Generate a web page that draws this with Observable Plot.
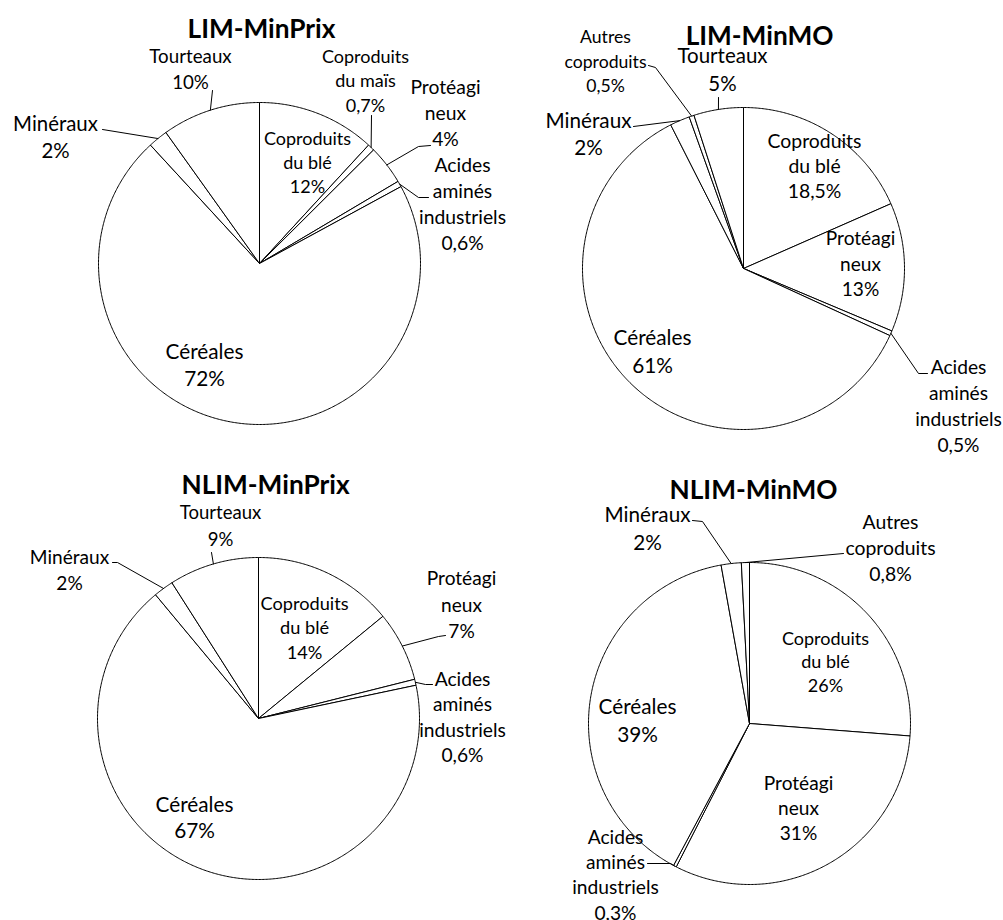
<!DOCTYPE html>
<html><head><meta charset="utf-8">
<script src="https://cdn.jsdelivr.net/npm/d3@7"></script>
<script src="https://cdn.jsdelivr.net/npm/@observablehq/plot@0.6"></script>
<style>html,body{margin:0;padding:0;background:#fff}</style>
</head><body><div id="chart"></div>
<script>
// ---------- DATA ----------
const titles = ["LIM-MinPrix", "LIM-MinMO", "NLIM-MinPrix", "NLIM-MinMO"];

const limMinPrixCategories = ["Coproduits du blé", "Coproduits du maïs", "Protéagineux", "Acides aminés industriels", "Céréales", "Minéraux", "Tourteaux"];
const limMinPrixValues = [12, 0.7, 4, 0.6, 72, 2, 10];

const limMinMOCategories = ["Coproduits du blé", "Protéagineux", "Acides aminés industriels", "Céréales", "Minéraux", "Autres coproduits", "Tourteaux"];
const limMinMOValues = [18.5, 13, 0.5, 61, 2, 0.5, 5];

const nlimMinPrixCategories = ["Coproduits du blé", "Protéagineux", "Acides aminés industriels", "Céréales", "Minéraux", "Tourteaux"];
const nlimMinPrixValues = [14, 7, 0.6, 67, 2, 9];

const nlimMinMOCategories = ["Coproduits du blé", "Protéagineux", "Acides aminés industriels", "Céréales", "Minéraux", "Autres coproduits"];
const nlimMinMOValues = [26, 31, 0.3, 39, 2, 0.8];

const categoryLines = {
  "Coproduits du blé": ["Coproduits", "du blé"],
  "Coproduits du maïs": ["Coproduits", "du maïs"],
  "Protéagineux": ["Protéagi", "neux"],
  "Acides aminés industriels": ["Acides", "aminés", "industriels"],
  "Céréales": ["Céréales"],
  "Minéraux": ["Minéraux"],
  "Tourteaux": ["Tourteaux"],
  "Autres coproduits": ["Autres", "coproduits"]
};

// ---------- LAYOUT (positions / sizes) ----------
const layout = [
  {cx: 259, cy: 263, r: 161, title: [261, 29], labels: {
    "Coproduits du blé": {x: 307, y: 162.7, pitch: 24, size: 19.4},
    "Coproduits du maïs": {x: 365, y: 81, pitch: 24.5, size: 19.4, leader: [[371, 115]]},
    "Protéagineux": {x: 445, y: 113, pitch: 26, size: 20.8, leader: [[430, 145], [418, 146]]},
    "Acides aminés industriels": {x: 462, y: 204, pitch: 26, size: 20.8, leader: [[428, 197], [418, 197]]},
    "Céréales": {x: 204, y: 365.5, pitch: 27, size: 22.4},
    "Minéraux": {x: 55, y: 137.5, pitch: 27, size: 22, leader: [[102, 129]]},
    "Tourteaux": {x: 190, y: 69, pitch: 26, size: 20.2, leader: [[212, 90]]}
  }},
  {cx: 743, cy: 268, r: 161, title: [759, 36], labels: {
    "Coproduits du blé": {x: 814, y: 166, pitch: 25, size: 20.9},
    "Protéagineux": {x: 860, y: 264, pitch: 25.5, size: 20.6},
    "Acides aminés industriels": {x: 958, y: 406, pitch: 26, size: 20.7, leader: [[927, 373], [918, 373]]},
    "Céréales": {x: 652, y: 352, pitch: 28, size: 22.4},
    "Minéraux": {x: 588, y: 134.5, pitch: 27, size: 22.3, leader: [[633, 126]]},
    "Autres coproduits": {x: 605, y: 61.7, pitch: 24.5, size: 19, leader: [[648, 65], [655, 67]]},
    "Tourteaux": {x: 722, y: 70, pitch: 28, size: 22.1, leader: [[718, 97]]}
  }},
  {cx: 258, cy: 718, r: 161, title: [265, 485], labels: {
    "Coproduits du blé": {x: 304, y: 628, pitch: 24.5, size: 19.6},
    "Protéagineux": {x: 461, y: 605, pitch: 26.5, size: 20.6, leader: [[445, 635], [438, 636]]},
    "Acides aminés industriels": {x: 462, y: 717.5, pitch: 25.5, size: 20.7, leader: [[432, 684], [425, 684]]},
    "Céréales": {x: 194, y: 818, pitch: 26, size: 22.4},
    "Minéraux": {x: 69, y: 570, pitch: 26, size: 20.6, leader: [[112, 562], [117, 562]]},
    "Tourteaux": {x: 220, y: 526.5, pitch: 27, size: 20, leader: [[211, 552]]}
  }},
  {cx: 749, cy: 723, r: 161, title: [753, 490], labels: {
    "Coproduits du blé": {x: 825, y: 662, pitch: 23.5, size: 19.4},
    "Protéagineux": {x: 798, y: 808, pitch: 25, size: 20.6},
    "Acides aminés industriels": {x: 615, y: 875, pitch: 25.3, size: 20.7, leader: [[647, 863], [670, 863]]},
    "Céréales": {x: 637, y: 721, pitch: 28, size: 22.4},
    "Minéraux": {x: 647, y: 529, pitch: 28, size: 22.3, leader: [[692, 520], [702, 521]]},
    "Autres coproduits": {x: 890, y: 548, pitch: 26, size: 20.9, leader: [[843, 553]]}
  }}
];

// ---------- FONT CALIBRATION ----------
const ctx = document.createElement("canvas").getContext("2d");
ctx.font = "100px Lato";
const wReg = ctx.measureText("Céréales").width;
ctx.font = "bold 100px Lato";
const wBold = ctx.measureText("LIM-MinPrix").width;
const regScale = (78 / 22.4) / (wReg / 100);
const titleSize = 148 / (wBold / 100);

// ---------- BUILD MARK DATA ----------
const pieData = [
  [limMinPrixCategories, limMinPrixValues],
  [limMinMOCategories, limMinMOValues],
  [nlimMinPrixCategories, nlimMinPrixValues],
  [nlimMinMOCategories, nlimMinMOValues]
];
const fmt = v => String(v).replace(".", ",") + "%";

const slicePts = [], leaderPts = [], textRows = [], titleRows = [];
pieData.forEach(([cats, vals], p) => {
  const L = layout[p];
  const arcs = d3.pie().sort(null).value(d => d.v)(cats.map((c, i) => ({c, v: vals[i]})));
  const pt = a => [L.cx + L.r * Math.sin(a), L.cy - L.r * Math.cos(a)];
  arcs.forEach((a, i) => {
    const id = p + "-" + i;
    const n = Math.max(2, Math.ceil((a.endAngle - a.startAngle) / (Math.PI / 360)));
    slicePts.push({id, x: L.cx, y: L.cy});
    for (let k = 0; k <= n; k++) {
      const [x, y] = pt(a.startAngle + (a.endAngle - a.startAngle) * k / n);
      slicePts.push({id, x, y});
    }
    slicePts.push({id, x: L.cx, y: L.cy});
    const lab = L.labels[a.data.c];
    const lines = [...categoryLines[a.data.c], fmt(a.data.v)];
    lines.forEach((t, j) => textRows.push({
      text: t, x: lab.x, y: lab.y + (j - (lines.length - 1) / 2) * lab.pitch, size: lab.size * regScale
    }));
    if (lab.leader) {
      const mid = (a.startAngle + a.endAngle) / 2;
      const [rx, ry] = pt(mid);
      lab.leader.forEach(([x, y]) => leaderPts.push({id, x, y}));
      leaderPts.push({id, x: rx, y: ry});
    }
  });
  titleRows.push({text: titles[p], x: L.title[0], y: L.title[1]});
});

const chart = Plot.plot({
  width: 1003, height: 920, margin: 0,
  x: {domain: [0, 1003], range: [0, 1003], axis: null},
  y: {domain: [0, 920], range: [0, 920], axis: null},
  style: {fontFamily: "Lato", background: "white", color: "black"},
  marks: [
    Plot.line(slicePts, {x: "x", y: "y", z: "id", fill: "white", stroke: "black", strokeWidth: 1, strokeLinejoin: "miter", curve: "linear"}),
    Plot.line(leaderPts, {x: "x", y: "y", z: "id", stroke: "black", strokeWidth: 1, strokeLinejoin: "miter", curve: "linear"}),
    Plot.text(textRows, {x: "x", y: "y", text: "text", fontSize: d => d.size, fill: "black", fontFamily: "Lato"}),
    Plot.text(titleRows, {x: "x", y: "y", text: "text", fontSize: titleSize, fontWeight: "bold", fill: "black", fontFamily: "Lato"})
  ]
});
document.getElementById("chart").appendChild(chart);
</script>
</body></html>
